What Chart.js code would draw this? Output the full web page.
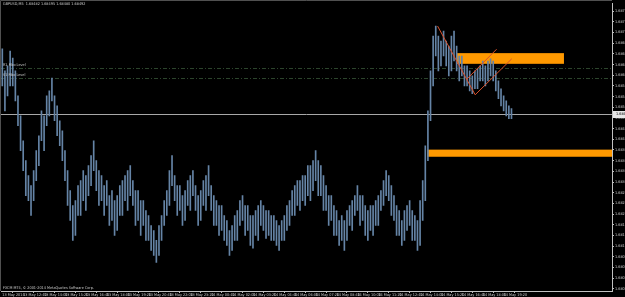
<!DOCTYPE html>
<html><head><meta charset="utf-8">
<script src="https://cdn.jsdelivr.net/npm/chart.js@4.4.0/dist/chart.umd.min.js"></script>
<style>html,body{margin:0;padding:0;background:#000;overflow:hidden}#wrap{width:625px;height:297px;position:relative}</style>
</head><body><div id="wrap"><canvas id="c" width="625" height="297"></canvas></div>
<script>
const symbolTitle = "GBPUSD,M5  1.68482 1.68495 1.68480 1.68492";
const copyrightText = "FXCM MT4, \u00a9 2001-2014 MetaQuotes Software Corp.";
const timeTickLabels = ["13 May 2014","13 May 12:40","13 May 14:00","13 May 15:20","13 May 16:40","13 May 18:00","13 May 19:20","13 May 20:40","13 May 22:00","13 May 23:20","14 May 00:40","14 May 02:00","14 May 03:20","14 May 04:40","14 May 06:00","14 May 07:20","14 May 08:40","14 May 10:00","14 May 11:20","14 May 12:40","14 May 14:00","14 May 15:20","14 May 16:40","14 May 18:00","14 May 19:20"];
const priceTickLabels = ["1.68780","1.68750","1.68720","1.68690","1.68660","1.68630","1.68600","1.68570","1.68540","1.68510","1.68480","1.68450","1.68420","1.68390","1.68360","1.68330","1.68300","1.68270","1.68240","1.68210","1.68180","1.68150","1.68120","1.68090","1.68060","1.68030","1.68000"];
// 10-minute bars, 13 May 11:20 onward
const barHigh = [
1.68674,1.68612,1.68626,1.68668,1.68648,1.68612,1.68542,1.68486,1.68416,1.68360,
1.68318,1.68290,1.68332,1.68388,1.68430,1.68500,1.68486,1.68542,1.68556,1.68592,
1.68542,1.68514,1.68472,1.68444,1.68388,1.68332,1.68276,1.68234,1.68248,1.68290,
1.68304,1.68332,1.68318,1.68346,1.68374,1.68416,1.68360,1.68332,1.68318,1.68290,
1.68304,1.68262,1.68276,1.68248,1.68262,1.68290,1.68304,1.68318,1.68332,1.68346,
1.68304,1.68276,1.68276,1.68248,1.68248,1.68220,1.68206,1.68178,1.68164,1.68136,
1.68178,1.68206,1.68248,1.68276,1.68332,1.68374,1.68318,1.68290,1.68290,1.68262,
1.68276,1.68304,1.68318,1.68332,1.68290,1.68262,1.68276,1.68304,1.68318,1.68346,
1.68290,1.68262,1.68248,1.68234,1.68234,1.68206,1.68192,1.68164,1.68178,1.68206,
1.68220,1.68248,1.68262,1.68234,1.68234,1.68206,1.68206,1.68220,1.68234,1.68248,
1.68234,1.68220,1.68220,1.68206,1.68206,1.68192,1.68178,1.68192,1.68206,1.68234,
1.68248,1.68276,1.68290,1.68304,1.68304,1.68318,1.68318,1.68346,1.68346,1.68360,
1.68388,1.68360,1.68346,1.68318,1.68290,1.68262,1.68262,1.68234,1.68220,1.68192,
1.68206,1.68192,1.68220,1.68234,1.68248,1.68262,1.68290,1.68262,1.68262,1.68234,
1.68220,1.68234,1.68234,1.68248,1.68262,1.68276,1.68304,1.68332,1.68318,1.68290,
1.68262,1.68234,1.68220,1.68192,1.68220,1.68234,1.68248,1.68220,1.68206,1.68192,
1.68248,1.68304,1.68402,1.68500,1.68612,1.68710,1.68738,1.68710,1.68696,1.68724,
1.68696,1.68682,1.68710,1.68724,1.68682,1.68654,1.68654,1.68626,1.68626,1.68612,
1.68598,1.68612,1.68618,1.68626,1.68640,1.68626,1.68640,1.68646,1.68640,1.68612,
1.68584,1.68562,1.68542,1.68528,1.68514,1.68506];
const barLow = [
1.68570,1.68500,1.68542,1.68570,1.68570,1.68528,1.68458,1.68388,1.68332,1.68262,
1.68248,1.68206,1.68248,1.68304,1.68346,1.68416,1.68388,1.68458,1.68486,1.68528,
1.68472,1.68430,1.68402,1.68360,1.68304,1.68234,1.68192,1.68136,1.68150,1.68206,
1.68206,1.68248,1.68220,1.68262,1.68290,1.68332,1.68276,1.68234,1.68248,1.68206,
1.68234,1.68178,1.68192,1.68150,1.68164,1.68206,1.68206,1.68248,1.68220,1.68262,
1.68234,1.68178,1.68192,1.68150,1.68178,1.68136,1.68136,1.68108,1.68094,1.68074,
1.68094,1.68136,1.68178,1.68206,1.68234,1.68290,1.68248,1.68206,1.68220,1.68178,
1.68192,1.68234,1.68220,1.68262,1.68220,1.68178,1.68192,1.68234,1.68220,1.68262,
1.68220,1.68178,1.68178,1.68150,1.68164,1.68136,1.68122,1.68094,1.68108,1.68136,
1.68136,1.68178,1.68192,1.68150,1.68164,1.68122,1.68114,1.68150,1.68136,1.68178,
1.68164,1.68142,1.68150,1.68136,1.68136,1.68122,1.68108,1.68136,1.68136,1.68164,
1.68178,1.68206,1.68206,1.68234,1.68220,1.68248,1.68234,1.68262,1.68248,1.68276,
1.68304,1.68262,1.68262,1.68220,1.68220,1.68178,1.68192,1.68150,1.68150,1.68122,
1.68136,1.68108,1.68136,1.68178,1.68164,1.68206,1.68220,1.68178,1.68192,1.68150,
1.68136,1.68164,1.68150,1.68178,1.68178,1.68220,1.68234,1.68262,1.68248,1.68206,
1.68192,1.68150,1.68150,1.68122,1.68136,1.68164,1.68178,1.68136,1.68136,1.68108,
1.68122,1.68192,1.68248,1.68360,1.68472,1.68570,1.68654,1.68612,1.68626,1.68654,
1.68626,1.68598,1.68612,1.68640,1.68612,1.68584,1.68598,1.68570,1.68570,1.68556,
1.68548,1.68562,1.68562,1.68584,1.68584,1.68570,1.68584,1.68598,1.68584,1.68556,
1.68534,1.68514,1.68500,1.68486,1.68478,1.68478];
const lastPrice = 1.68492;
const levelNames = ["R1 Fibo Level","S1 Fibo Level"];
const levelPrices = [1.68620, 1.68592];
const zoneStart = [174.1, 162.7];
const zoneEnd = [215.1, 233.5];
const zoneTop = [1.68662, 1.68391];
const zoneBottom = [1.68632, 1.68371];
const trend1X = [166.7, 181.1, 195.1];
const trend1Y = [1.68738, 1.68545, 1.68646];
const trend2X = [177.9, 189.3];
const trend2Y = [1.68589, 1.68673];

const FONT = '"Liberation Sans Narrow", "DejaVu Sans Condensed", sans-serif';
const overlay = {
  id: 'overlay',
  beforeDraw(chart) {
    const ctx = chart.ctx;
    ctx.save(); ctx.fillStyle = '#000'; ctx.fillRect(0, 0, chart.width, chart.height); ctx.restore();
  },
  beforeDatasetsDraw(chart) {
    const {ctx, chartArea: a, scales: {x, y}} = chart;
    ctx.save();
    ctx.beginPath(); ctx.rect(a.left, a.top, a.right - a.left, a.bottom - a.top); ctx.clip();
    ctx.fillStyle = '#ff9900';
    zoneStart.forEach((s, k) => {
      const x0 = x.getPixelForValue(s), x1 = x.getPixelForValue(zoneEnd[k]);
      const y0 = y.getPixelForValue(zoneTop[k]), y1 = y.getPixelForValue(zoneBottom[k]);
      ctx.fillRect(x0, y0, x1 - x0, y1 - y0);
    });
    ctx.strokeStyle = '#2c442c'; ctx.lineWidth = 1; ctx.setLineDash([4, 2, 1, 2]);
    levelPrices.forEach(p => {
      const py = Math.round(y.getPixelForValue(p)) + 0.5;
      ctx.beginPath(); ctx.moveTo(a.left, py); ctx.lineTo(a.right, py); ctx.stroke();
    });
    ctx.setLineDash([]);
    ctx.strokeStyle = '#a8a8a8';
    const ly = Math.round(y.getPixelForValue(lastPrice)) + 0.5;
    ctx.beginPath(); ctx.moveTo(a.left, ly); ctx.lineTo(a.right, ly); ctx.stroke();
    ctx.restore();
  },
  afterDraw(chart) {
    const {ctx, chartArea: a, scales: {y}} = chart;
    ctx.save();
    ctx.strokeStyle = '#505050'; ctx.lineWidth = 1;
    ctx.beginPath(); ctx.moveTo(0.5, a.bottom); ctx.lineTo(0.5, 0.5); ctx.lineTo(a.right, 0.5); ctx.stroke();
    ctx.font = '3.8px ' + FONT; ctx.textBaseline = 'middle'; ctx.fillStyle = '#c8c8c8';
    ctx.fillText(symbolTitle, 3, 4);
    ctx.fillText(copyrightText, 3, a.bottom - 3);
    levelPrices.forEach((p, k) => {
      ctx.fillText(levelNames[k], 3, y.getPixelForValue(p) - 3);
    });
    const ly = Math.round(y.getPixelForValue(lastPrice));
    ctx.fillStyle = '#e6e6e6'; ctx.fillRect(a.right + 1, ly - 3, 20, 7);
    ctx.fillStyle = '#000'; ctx.fillText(lastPrice.toFixed(5), a.right + 4, ly + 0.5);
    ctx.restore();
  }
};

new Chart(document.getElementById('c'), {
  type: 'bar',
  data: {
    datasets: [
      {type: 'line', data: trend1X.map((v, i) => ({x: v, y: trend1Y[i]})), borderColor: '#d9512b', borderWidth: 1, pointRadius: 0, order: 0},
      {type: 'line', data: trend2X.map((v, i) => ({x: v, y: trend2Y[i]})), borderColor: '#d9512b', borderWidth: 1, pointRadius: 0, order: 0},
      {type: 'bar', data: barHigh.map((h, i) => ({x: i, y: [barLow[i], h]})), backgroundColor: '#6584a6', barThickness: 1, order: 1}
    ]
  },
  options: {
    responsive: false, animation: false, events: [],
    layout: {padding: {left: 1, top: 2, right: 0, bottom: 0}},
    plugins: {legend: {display: false}, tooltip: {enabled: false}},
    scales: {
      x: {
        type: 'linear', min: -0.5, max: 233.5, offset: false,
        grid: {display: true, drawOnChartArea: false, drawTicks: true, tickLength: 2, color: '#c0c0c0'},
        border: {display: true, color: '#c0c0c0'},
        ticks: {color: '#c8c8c8', font: {size: 3.8, family: FONT}, align: 'start', padding: 0, maxRotation: 0, autoSkip: false,
          callback: (v) => timeTickLabels[Math.round(v / 8)]},
        afterBuildTicks: s => { s.ticks = timeTickLabels.map((_, k) => ({value: 8 * k})); },
        afterFit: s => { s.height = 6; }
      },
      y: {
        position: 'right', min: 1.67994, max: 1.68802,
        grid: {display: true, drawOnChartArea: false, drawTicks: true, tickLength: 2, color: '#c0c0c0'},
        border: {display: true, color: '#c0c0c0'},
        ticks: {color: '#c8c8c8', font: {size: 3.8, family: FONT}, padding: 1, autoSkip: false,
          callback: (v, i) => priceTickLabels[i]},
        afterBuildTicks: s => { s.ticks = priceTickLabels.map(t => ({value: parseFloat(t)})); },
        afterFit: s => { s.width = 13; }
      }
    }
  },
  plugins: [overlay]
});
</script></body></html>
